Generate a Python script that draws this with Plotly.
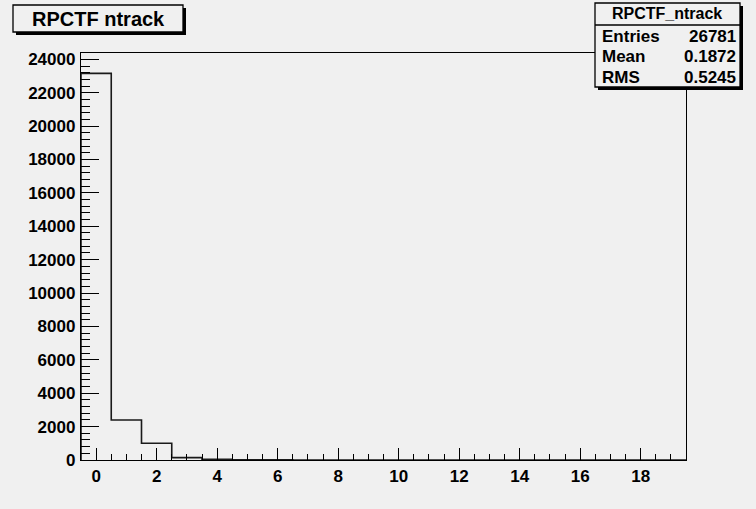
import plotly.graph_objects as go

# ---- data ----
bin_centers = list(range(20))
counts = [23160, 2400, 1000, 140, 40, 15, 8, 4, 2, 1, 1, 0, 0, 0, 0, 0, 0, 0, 0, 0]
x_ticks = [0, 2, 4, 6, 8, 10, 12, 14, 16, 18]
y_ticks = list(range(0, 24001, 2000))
title_text = "RPCTF ntrack"
stats_name = "RPCTF_ntrack"
stats_labels = ["Entries", "Mean", "RMS"]
stats_values = ["26781", "0.1872", "0.5245"]

# ---- geometry (page pixels) ----
W, H = 756, 509
L, R, T, B = 81, 686, 53, 460
def px(x):
    return (x - L) / (R - L)
def py(y):
    return (B - y) / (B - T)

edges = [c - 0.5 for c in bin_centers] + [bin_centers[-1] + 0.5]
ys = [0] + counts + [counts[-1]]
xs = [edges[0]] + edges

bg = "#f0f0f0"
font_fam = "Liberation Sans, Arial, sans-serif"

fig = go.Figure()
fig.add_trace(go.Scatter(x=xs, y=ys, mode="lines", line=dict(shape="hv", color="#1a1a1a", width=1.6),
                         hoverinfo="skip", showlegend=False, cliponaxis=True))

fig.update_layout(
    width=W, height=H,
    margin=dict(l=L, r=W - R, t=T, b=H - B),
    paper_bgcolor=bg, plot_bgcolor=bg,
    font=dict(family=font_fam, size=17, color="black"),
    showlegend=False,
)
fig.update_xaxes(range=[-0.5, 19.5], tickmode="array", tickvals=x_ticks,
                 ticktext=[f"<b>{v}</b>" for v in x_ticks],
                 ticks="inside", ticklen=12, tickwidth=1.3, tickcolor="black",
                 minor=dict(dtick=0.5, tick0=0, ticks="inside", ticklen=6, tickwidth=1.3, tickcolor="black"),
                 showgrid=False, zeroline=False, showline=True, linecolor="black", linewidth=1.3,
                 mirror=True, tickfont=dict(size=17), ticklabelstandoff=0)
fig.update_yaxes(range=[0, 24380], tickmode="array", tickvals=y_ticks,
                 ticktext=[f"<b>{v}</b>" for v in y_ticks],
                 ticks="inside", ticklen=18, tickwidth=1.3, tickcolor="black",
                 minor=dict(dtick=400, tick0=0, ticks="inside", ticklen=9, tickwidth=1.3, tickcolor="black"),
                 showgrid=False, zeroline=False, showline=True, linecolor="black", linewidth=1.3,
                 mirror=True, tickfont=dict(size=17), ticklabelstandoff=1)

shapes = []
# title box with shadow
shapes.append(dict(type="rect", xref="paper", yref="paper", x0=px(16), x1=px(186), y0=py(35), y1=py(8),
                   fillcolor="black", line=dict(width=0), layer="above"))
shapes.append(dict(type="rect", xref="paper", yref="paper", x0=px(13), x1=px(183), y0=py(32), y1=py(5),
                   fillcolor=bg, line=dict(color="black", width=1.3), layer="above"))
# stats box with shadow
shapes.append(dict(type="rect", xref="paper", yref="paper", x0=px(598), x1=px(743), y0=py(90), y1=py(6),
                   fillcolor="black", line=dict(width=0), layer="above"))
shapes.append(dict(type="rect", xref="paper", yref="paper", x0=px(595), x1=px(740), y0=py(87), y1=py(3),
                   fillcolor=bg, line=dict(color="black", width=1.3), layer="above"))
shapes.append(dict(type="line", xref="paper", yref="paper", x0=px(595), x1=px(740), y0=py(25), y1=py(25),
                   line=dict(color="black", width=1.3), layer="above"))
fig.update_layout(shapes=shapes)

ann = []
ann.append(dict(xref="paper", yref="paper", x=px(98), y=py(19), text=f"<b>{title_text}</b>",
                showarrow=False, font=dict(size=20), xanchor="center", yanchor="middle"))
ann.append(dict(xref="paper", yref="paper", x=px(667), y=py(14), text=f"<b>{stats_name}</b>",
                showarrow=False, font=dict(size=16), xanchor="center", yanchor="middle"))
row_y = [37, 57, 77]
for lab, val, yy in zip(stats_labels, stats_values, row_y):
    ann.append(dict(xref="paper", yref="paper", x=px(600), y=py(yy), text=f"<b>{lab}</b>",
                    showarrow=False, font=dict(size=17), xanchor="left", yanchor="middle"))
    ann.append(dict(xref="paper", yref="paper", x=px(738), y=py(yy), text=f"<b>{val}</b>",
                    showarrow=False, font=dict(size=17), xanchor="right", yanchor="middle"))
fig.update_layout(annotations=ann)

fig.write_html("out.html", config={"displayModeBar": False},
               post_script="document.body.style.margin='0';document.body.style.overflow='hidden';")
